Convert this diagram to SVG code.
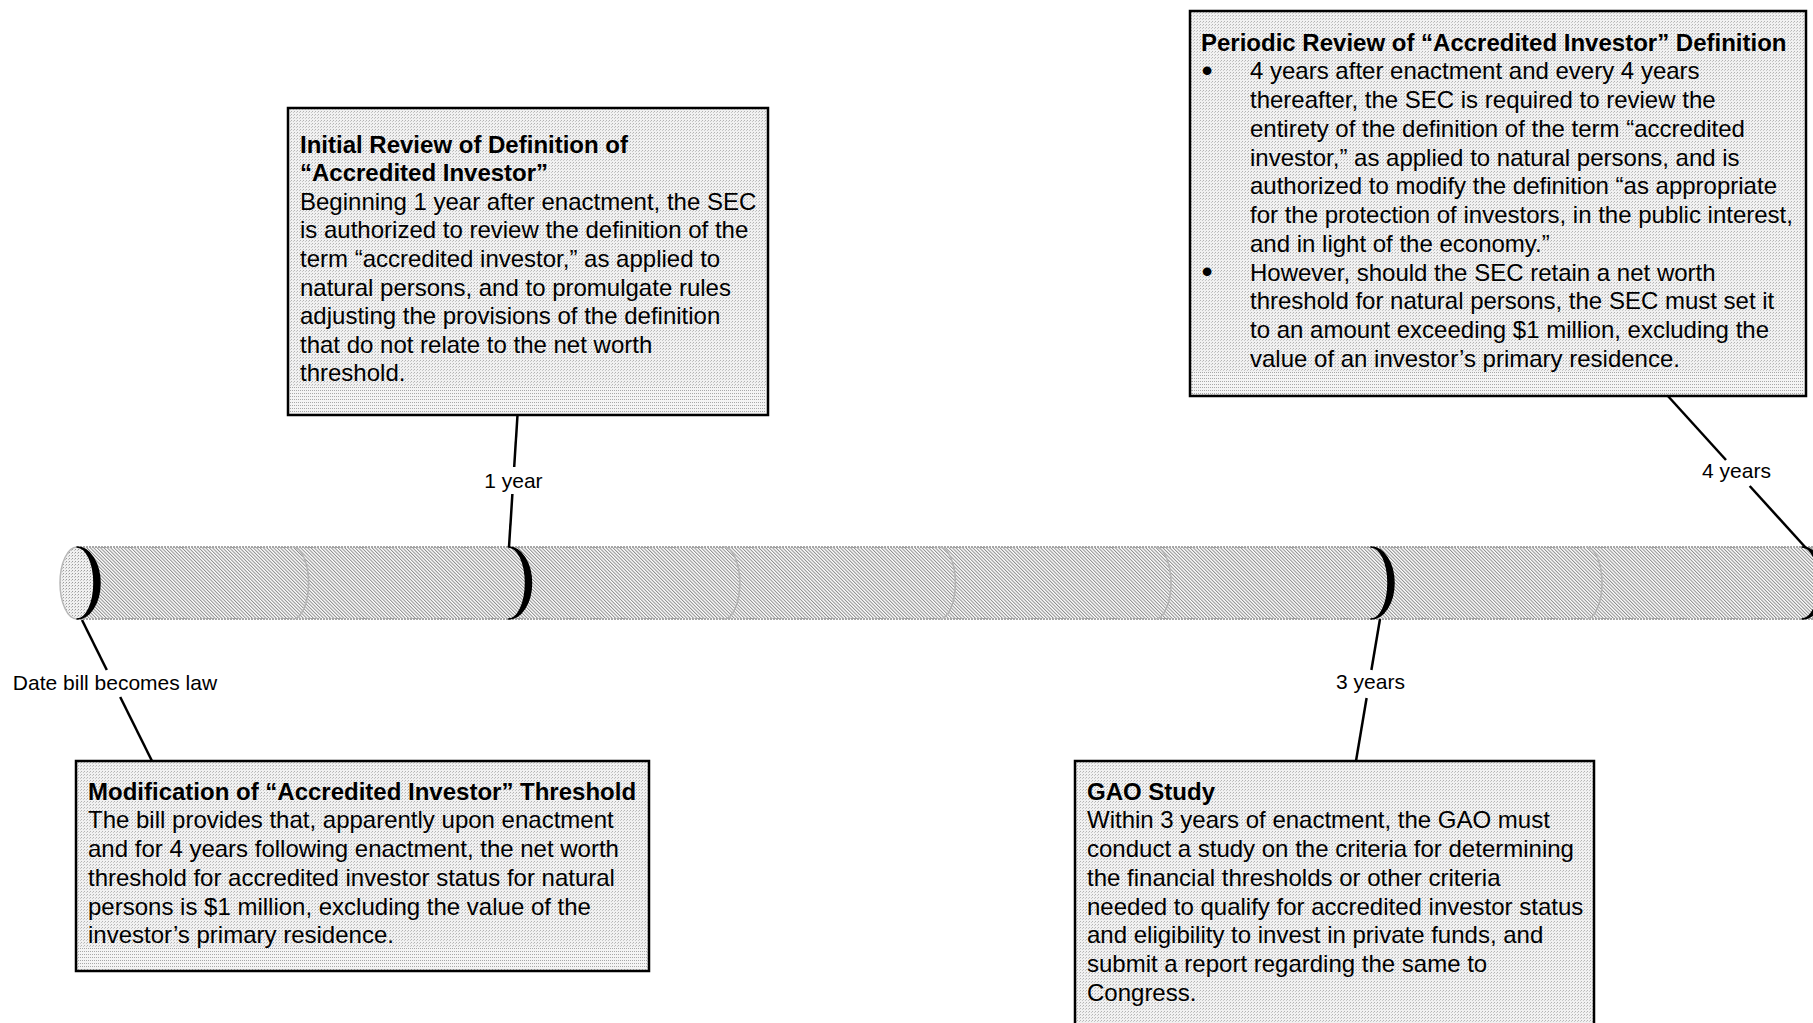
<svg xmlns="http://www.w3.org/2000/svg" width="1813" height="1023" viewBox="0 0 1813 1023">
  <defs>
    <!-- diagonal hatching for the timeline tube -->
    <pattern id="hatch" patternUnits="userSpaceOnUse" width="2.4" height="10" patternTransform="rotate(-45)">
      <rect x="0" y="0" width="2.4" height="10" fill="#ffffff"/>
      <rect x="0" y="0" width="1" height="10" fill="#8c8c8c"/>
    </pattern>
    <!-- stipple for the tube end face -->
    <pattern id="stipple" patternUnits="userSpaceOnUse" width="3" height="3">
      <rect width="3" height="3" fill="#f0f0f0"/>
      <rect x="0" y="0" width="1" height="1" fill="#9a9a9a"/>
      <rect x="2" y="1" width="1" height="1" fill="#c4c4c4"/>
    </pattern>
    <!-- fine dot texture for the callout boxes -->
    <pattern id="boxfill" patternUnits="userSpaceOnUse" width="3" height="3">
      <rect width="3" height="3" fill="#f1f1f1"/>
      <rect x="0" y="0" width="1" height="1" fill="#b4b4b4"/>
      <rect x="2" y="1" width="1" height="1" fill="#c8c8c8"/>
    </pattern>
    <pattern id="boxband" patternUnits="userSpaceOnUse" width="2" height="3">
      <rect width="2" height="3" fill="#f4f4f4"/>
      <rect x="0" y="0" width="1" height="1" fill="#a8a8a8"/>
    </pattern>
  </defs>
  <style>
    .box { fill: url(#boxfill); stroke: #000000; stroke-width: 2.5; }
    .band { fill: url(#boxband); }
    .title { font-family: "Liberation Sans", Arial, sans-serif; font-size: 24px; font-weight: bold; fill: #000000; }
    .body { font-family: "Liberation Sans", Arial, sans-serif; font-size: 24px; fill: #000000; }
    .bullet { font-family: "Liberation Sans", Arial, sans-serif; font-size: 32px; fill: #000000; text-anchor: middle; }
    .label { font-family: "Liberation Sans", Arial, sans-serif; font-size: 21px; fill: #000000; text-anchor: middle; }
    .leader { stroke: #000000; stroke-width: 2.5; fill: none; }
    .seam { fill: none; stroke: #b4b4b4; stroke-width: 1.6; }
    .mark { fill: #000000; stroke: #000000; stroke-width: 1.5; stroke-linejoin: round; }
  </style>

  <rect width="1813" height="1023" fill="#ffffff"/>

  <!-- timeline tube -->
  <g id="timeline">
    <rect x="77" y="547" width="1760" height="72" fill="url(#hatch)"/>
    <line x1="77" y1="547" x2="1813" y2="547" stroke="#a6a6a6" stroke-width="1.8" stroke-dasharray="2 1"/>
    <line x1="77" y1="619" x2="1813" y2="619" stroke="#a6a6a6" stroke-width="1.8" stroke-dasharray="2 1"/>
    <!-- end face -->
    <ellipse cx="77" cy="583" rx="17" ry="36" fill="url(#stipple)" stroke="#b8b8b8" stroke-width="1.5"/>
    <!-- faint segment seams -->
    <path class="seam" d="M292.6,547 A16,36 0 0 1 292.6,619"/>
    <path class="seam" d="M723.8,547 A16,36 0 0 1 723.8,619"/>
    <path class="seam" d="M939.4,547 A16,36 0 0 1 939.4,619"/>
    <path class="seam" d="M1155,547 A16,36 0 0 1 1155,619"/>
    <path class="seam" d="M1586,547 A16,36 0 0 1 1586,619"/>
    <!-- milestone marks -->
    <path class="mark" d="M77,547 A23,36 0 0 1 77,619 A17,36 0 0 0 77,547 Z"/>
    <path class="mark" d="M508.5,547 A23,36 0 0 1 508.5,619 A17,36 0 0 0 508.5,547 Z"/>
    <path class="mark" d="M1371,547 A23,36 0 0 1 1371,619 A17,36 0 0 0 1371,547 Z"/>
    <path class="mark" d="M1802,547 A23,36 0 0 1 1802,619 A17,36 0 0 0 1802,547 Z"/>
  </g>

  <!-- leader lines with their interval labels -->
  <g id="connectors">
    <line class="leader" x1="82" y1="620" x2="106.8" y2="670"/>
    <line class="leader" x1="120.2" y1="697" x2="152" y2="761"/>
    <text class="label" x="115" y="690">Date bill becomes law</text>

    <line class="leader" x1="517.5" y1="415" x2="514.2" y2="467"/>
    <line class="leader" x1="512.4" y1="494" x2="509" y2="547"/>
    <text class="label" x="513.4" y="488">1 year</text>

    <line class="leader" x1="1380" y1="619" x2="1371.4" y2="670"/>
    <line class="leader" x1="1366.6" y1="698" x2="1356" y2="761"/>
    <text class="label" x="1370.5" y="689">3 years</text>

    <line class="leader" x1="1667" y1="395" x2="1726" y2="460"/>
    <line class="leader" x1="1749.7" y1="486" x2="1806" y2="548"/>
    <text class="label" x="1736.5" y="478">4 years</text>
  </g>

  <!-- initial review (1 year) -->
  <g id="initial-review">
    <rect class="box" x="288" y="108" width="480" height="307"/>
    <rect class="band" x="290" y="386" width="476" height="27"/>
    <text class="title" x="300" y="152.5">Initial Review of Definition of</text>
    <text class="title" x="300" y="181.1">“Accredited Investor”</text>
    <text class="body" x="300" y="209.7">Beginning 1 year after enactment, the SEC</text>
    <text class="body" x="300" y="238.3">is authorized to review the definition of the</text>
    <text class="body" x="300" y="266.9">term “accredited investor,” as applied to</text>
    <text class="body" x="300" y="295.5">natural persons, and to promulgate rules</text>
    <text class="body" x="300" y="324.1">adjusting the provisions of the definition</text>
    <text class="body" x="300" y="352.7">that do not relate to the net worth</text>
    <text class="body" x="300" y="381.3">threshold.</text>
  </g>

  <!-- periodic review (4 years) -->
  <g id="periodic-review">
    <rect class="box" x="1190" y="11" width="616" height="385"/>
    <rect class="band" x="1192" y="372" width="612" height="22"/>
    <text class="title" x="1201" y="50.5">Periodic Review of “Accredited Investor” Definition</text>
    <text class="bullet" x="1207" y="81">•</text>
    <text class="body" x="1250" y="79.25">4 years after enactment and every 4 years</text>
    <text class="body" x="1250" y="108">thereafter, the SEC is required to review the</text>
    <text class="body" x="1250" y="136.75">entirety of the definition of the term “accredited</text>
    <text class="body" x="1250" y="165.5">investor,” as applied to natural persons, and is</text>
    <text class="body" x="1250" y="194.25">authorized to modify the definition “as appropriate</text>
    <text class="body" x="1250" y="223">for the protection of investors, in the public interest,</text>
    <text class="body" x="1250" y="251.75">and in light of the economy.”</text>
    <text class="bullet" x="1207" y="282">•</text>
    <text class="body" x="1250" y="280.5">However, should the SEC retain a net worth</text>
    <text class="body" x="1250" y="309.25">threshold for natural persons, the SEC must set it</text>
    <text class="body" x="1250" y="338">to an amount exceeding $1 million, excluding the</text>
    <text class="body" x="1250" y="366.75">value of an investor’s primary residence.</text>
  </g>

  <!-- threshold modification (enactment) -->
  <g id="threshold-modification">
    <rect class="box" x="76" y="761" width="573" height="210"/>
    <rect class="band" x="78" y="947" width="569" height="22"/>
    <text class="title" x="88" y="799.5">Modification of “Accredited Investor” Threshold</text>
    <text class="body" x="88" y="828.25">The bill provides that, apparently upon enactment</text>
    <text class="body" x="88" y="857">and for 4 years following enactment, the net worth</text>
    <text class="body" x="88" y="885.75">threshold for accredited investor status for natural</text>
    <text class="body" x="88" y="914.5">persons is $1 million, excluding the value of the</text>
    <text class="body" x="88" y="943.25">investor’s primary residence.</text>
  </g>

  <!-- GAO study (3 years) -->
  <g id="gao-study">
    <rect class="box" x="1075" y="761" width="519" height="275"/>
    <text class="title" x="1087" y="799.5">GAO Study</text>
    <text class="body" x="1087" y="828.25">Within 3 years of enactment, the GAO must</text>
    <text class="body" x="1087" y="857">conduct a study on the criteria for determining</text>
    <text class="body" x="1087" y="885.75">the financial thresholds or other criteria</text>
    <text class="body" x="1087" y="914.5">needed to qualify for accredited investor status</text>
    <text class="body" x="1087" y="943.25">and eligibility to invest in private funds, and</text>
    <text class="body" x="1087" y="972">submit a report regarding the same to</text>
    <text class="body" x="1087" y="1000.75">Congress.</text>
  </g>
</svg>
